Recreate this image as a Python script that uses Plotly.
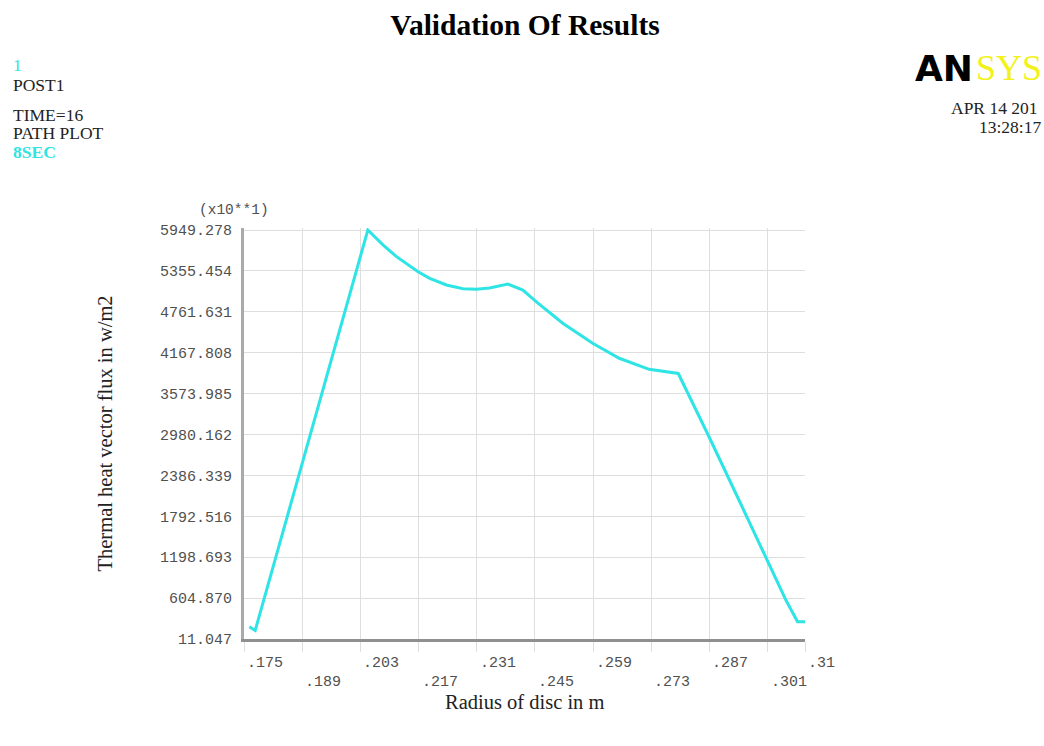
import plotly.graph_objects as go

# Path plot data: radial position (m) vs thermal heat vector flux (x10 W/m2)
radius = [0.1763, 0.1777, 0.2048, 0.2085, 0.2117, 0.2169, 0.2197, 0.2237,
          0.2277, 0.2309, 0.2341, 0.2385, 0.2421, 0.2453, 0.2517, 0.2589,
          0.2653, 0.2725, 0.2795, 0.2869, 0.2941, 0.3006, 0.3054, 0.3082,
          0.3100]
flux = [190, 135, 5949.278, 5731, 5562, 5344, 5248, 5151,
        5097, 5088, 5107, 5165, 5078, 4908, 4595, 4304,
        4087, 3927, 3866, 2948, 2029, 1206, 577, 262,
        262]

x_ticks = [0.175, 0.189, 0.203, 0.217, 0.231, 0.245, 0.259, 0.273, 0.287, 0.301, 0.31]
x_tick_text = [".175", ".189", ".203", ".217", ".231", ".245", ".259", ".273", ".287", ".301", ".31"]
y_ticks = [11.047, 604.870, 1198.693, 1792.516, 2386.339, 2980.162,
           3573.985, 4167.808, 4761.631, 5355.454, 5949.278]
y_tick_text = ["11.047", "604.870", "1198.693", "1792.516", "2386.339", "2980.162",
               "3573.985", "4167.808", "4761.631", "5355.454", "5949.278"]

W, H = 1044, 746
L, R, T, B = 244, 805, 228, 639  # plot area in pixels


def px(xp):
    return (xp - L) / (R - L)


def py(yp):
    return (B - yp) / (B - T)


SERIF = "Liberation Serif"
MONO = "Liberation Mono"
CYAN = "#2ee4e4"

fig = go.Figure()
fig.add_trace(go.Scatter(
    x=radius, y=flux, mode="lines",
    line=dict(color=CYAN, width=3),
    showlegend=False, hoverinfo="skip",
))

y_top = y_ticks[-1] + 2 * (y_ticks[1] - y_ticks[0]) / ((B - T - 2) / 10)

fig.update_layout(
    width=W, height=H,
    margin=dict(l=L, r=W - R, t=T, b=H - B, pad=0),
    paper_bgcolor="white", plot_bgcolor="white",
    title=dict(text="<b>Validation Of Results</b>",
               font=dict(family=SERIF, size=29.5, color="black"),
               x=525 / W, xanchor="center", y=1 - 25 / H, yanchor="middle"),
    xaxis=dict(range=[0.175, 0.31], tickvals=x_ticks, showticklabels=False,
               showgrid=True, gridcolor="#dedede", gridwidth=1,
               ticks="outside", ticklen=10, tickcolor="#dedede",
               showline=True, linecolor="#8f8f8f", linewidth=2.5,
               zeroline=False),
    yaxis=dict(range=[y_ticks[0], y_top], tickvals=y_ticks, ticktext=y_tick_text,
               tickfont=dict(family=MONO, size=15, color="#505050"),
               ticklabelstandoff=6,
               showgrid=True, gridcolor="#dedede", gridwidth=1,
               showline=True, linecolor="#aaaaaa", linewidth=3,
               zeroline=False),
)

ann = []
# staggered x tick labels
for i, (v, t) in enumerate(zip(x_ticks, x_tick_text)):
    ann.append(dict(x=v, y=py(663 if i % 2 == 0 else 682), xref="x", yref="paper",
                    text=t, showarrow=False, xanchor="left", yanchor="middle",
                    xshift=1, font=dict(family=MONO, size=15, color="#505050")))

ann.append(dict(x=px(271), y=py(210), xref="paper", yref="paper", text="(x10**1)",
                showarrow=False, xanchor="right", yanchor="middle",
                font=dict(family=MONO, size=14.5, color="#505050")))

# axis titles
ann.append(dict(x=0.5, y=py(702), xref="paper", yref="paper", text="Radius of disc in m",
                showarrow=False, xanchor="center", yanchor="middle",
                font=dict(family=SERIF, size=20.5, color="#222")))
ann.append(dict(x=px(104), y=0.5, xref="paper", yref="paper",
                text="Thermal heat vector flux in w/m2", textangle=-90,
                showarrow=False, xanchor="center", yanchor="middle",
                font=dict(family=SERIF, size=20.5, color="#222")))

# header block, top left
header = [("1", 65, CYAN, False), ("POST1", 85, "#222", False),
          ("TIME=16", 115, "#222", False), ("PATH PLOT", 133, "#222", False),
          ("8SEC", 152, CYAN, True)]
for txt, yp, col, bold in header:
    ann.append(dict(x=px(11), y=py(yp), xref="paper", yref="paper",
                    text=f"<b>{txt}</b>" if bold else txt,
                    showarrow=False, xanchor="left", yanchor="middle",
                    font=dict(family=SERIF, size=17.5, color=col)))

# logo and date stamp, top right
ann.append(dict(x=px(975), y=py(68), xref="paper", yref="paper", text="<b>AN</b>",
                showarrow=False, xanchor="right", yanchor="middle",
                font=dict(family="DejaVu Sans", size=36, color="black")))
ann.append(dict(x=px(974), y=py(68), xref="paper", yref="paper", text="SYS",
                showarrow=False, xanchor="left", yanchor="middle",
                font=dict(family=SERIF, size=36, color="#f2f21a")))
ann.append(dict(x=px(1040), y=py(108), xref="paper", yref="paper", text="APR 14 201",
                showarrow=False, xanchor="right", yanchor="middle",
                font=dict(family=SERIF, size=17.5, color="#222")))
ann.append(dict(x=px(1043), y=py(127), xref="paper", yref="paper", text="13:28:17",
                showarrow=False, xanchor="right", yanchor="middle",
                font=dict(family=SERIF, size=17.5, color="#222")))

fig.update_layout(annotations=ann)
fig.write_html("out.html")
